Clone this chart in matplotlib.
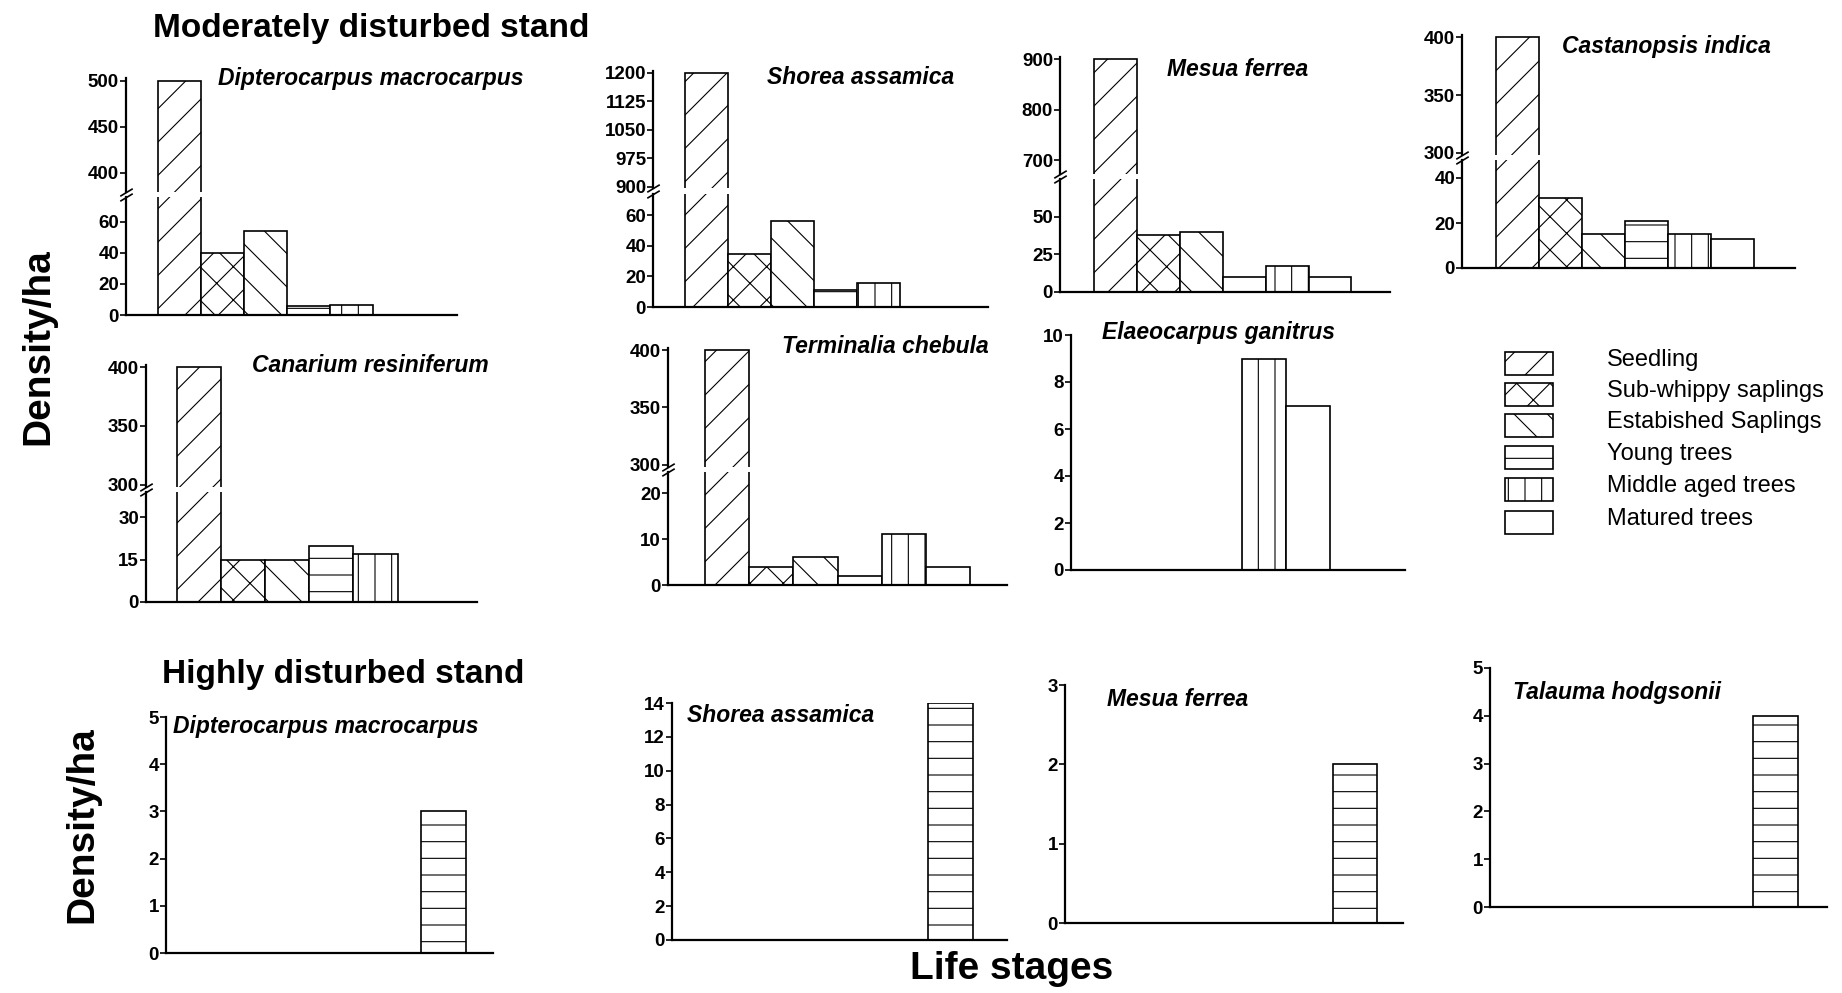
import matplotlib
matplotlib.use("Agg")
import matplotlib.pyplot as plt
from matplotlib.patches import Rectangle


# -----------------------------
# DATA (density / ha per life stage)
# -----------------------------

stages = [
    "Seedling",
    "Sub-whippy saplings",
    "Estabished Saplings",
    "Young trees",
    "Middle aged trees",
    "Matured trees",
]

# moderately disturbed stand
mod_dipterocarpus = [500, 40, 54, 6, 6.5, 0]
mod_shorea = [1200, 35, 56, 11, 16, 0]
mod_mesua = [900, 38, 40, 10, 17, 10]
mod_castanopsis = [400, 31, 15, 21, 15, 13]
mod_canarium = [400, 15, 15, 20, 17, 0]
mod_terminalia = [400, 4, 6, 2, 11, 4]
mod_elaeocarpus = [0, 0, 0, 0, 9, 7]

# highly disturbed stand
high_dipterocarpus = [0, 0, 0, 3, 0, 0]
high_shorea = [0, 0, 0, 14, 0, 0]
high_mesua = [0, 0, 0, 2, 0, 0]
high_talauma = [0, 0, 0, 4, 0, 0]

hatches = ["/", "x", "\\", "-", "|", ""]


# -----------------------------
# STYLE
# -----------------------------

plt.rcParams["font.family"] = ["Liberation Sans", "DejaVu Sans"]
plt.rcParams["font.weight"] = "bold"
plt.rcParams["hatch.linewidth"] = 0.8

W, H = 1842, 993

fig = plt.figure(figsize=(W / 100, H / 100), dpi=100)


def rect(x0, y0, x1, y1):
    # pixel box (top-left origin) -> figure fraction
    return [x0 / W, 1 - y1 / H, (x1 - x0) / W, (y1 - y0) / H]


def style_axis(ax, yticks, show_bottom=True):
    for side in ["top", "right"]:
        ax.spines[side].set_visible(False)
    ax.spines["left"].set_linewidth(1.6)
    ax.spines["bottom"].set_linewidth(1.6)
    if not show_bottom:
        ax.spines["bottom"].set_visible(False)
    ax.set_xticks([])
    ax.set_yticks(yticks)
    ax.tick_params(axis="y", direction="out", length=4, width=1.2,
                   labelsize=13.5, pad=1)
    ax.patch.set_alpha(0)


def draw_bars(ax, values):
    bars = ax.bar(range(len(values)), values, width=1.0, color="white",
                  edgecolor="black", linewidth=1.2)
    for bar, h in zip(bars, hatches):
        bar.set_hatch(h)
    return bars


def broken_panel(values, x0, x1, up, low, up_lim, low_lim,
                 up_ticks, low_ticks, xlim):
    ax_up = fig.add_axes(rect(x0, up[0], x1, up[1]))
    ax_low = fig.add_axes(rect(x0, low[0], x1, low[1]))
    for ax in (ax_up, ax_low):
        draw_bars(ax, values)
        ax.set_xlim(xlim)
    ax_up.set_ylim(up_lim)
    ax_low.set_ylim(low_lim)
    style_axis(ax_up, up_ticks, show_bottom=False)
    style_axis(ax_low, low_ticks)

    # break marks on the y axis
    kw = dict(marker=[(-1, -0.6), (1, 0.6)], markersize=9, linestyle="none",
              color="k", mec="k", mew=1.2, clip_on=False)
    ax_up.plot([0], [0], transform=ax_up.transAxes, **kw)
    ax_low.plot([0], [1], transform=ax_low.transAxes, **kw)


def simple_panel(values, x0, x1, y0, y1, ylim, ticks, xlim):
    ax = fig.add_axes(rect(x0, y0, x1, y1))
    draw_bars(ax, values)
    ax.set_xlim(xlim)
    ax.set_ylim(ylim)
    style_axis(ax, ticks)
    return ax


def title(x, y, name):
    fig.text(x / W, 1 - y / H, name, fontsize=16.5, fontweight="bold",
             style="italic", ha="left", va="center")


# -----------------------------
# MODERATELY DISTURBED STAND
# -----------------------------

broken_panel(mod_dipterocarpus, 126, 457, (78, 192), (197, 315),
             (379, 503), (0, 76), [400, 450, 500], [0, 20, 40, 60],
             (-1.25, 6.45))
title(218, 78, "Dipterocarpus macrocarpus")

broken_panel(mod_shorea, 653, 988, (71, 188), (194, 307),
             (897, 1205), (0, 74), [900, 975, 1050, 1125, 1200],
             [0, 20, 40, 60], (-1.25, 6.55))
title(767, 78, "Shorea assamica")

broken_panel(mod_mesua, 1060, 1390, (57, 174), (179, 292),
             (673, 904), (0, 75), [700, 800, 900], [0, 25, 50],
             (-1.3, 6.4))
title(1167, 69, "Mesua ferrea")

broken_panel(mod_castanopsis, 1462, 1795, (35, 155), (160, 268),
             (298, 402), (0, 48), [300, 350, 400], [0, 20, 40],
             (-1.3, 6.45))
title(1562, 47, "Castanopsis indica")

broken_panel(mod_canarium, 146, 477, (365, 487), (492, 602),
             (298, 402), (0, 39), [300, 350, 400], [0, 15, 30],
             (-1.2, 6.3))
title(252, 366, "Canarium resiniferum")

broken_panel(mod_terminalia, 668, 1007, (348, 467), (472, 585),
             (298, 402), (0, 24.6), [300, 350, 400], [0, 10, 20],
             (-1.35, 6.35))
title(782, 347, "Terminalia chebula")

simple_panel(mod_elaeocarpus, 1071, 1405, 335, 570, (0, 10),
             [0, 2, 4, 6, 8, 10], (-0.4, 7.2))
title(1102, 332, "Elaeocarpus ganitrus")


# -----------------------------
# HIGHLY DISTURBED STAND
# -----------------------------

simple_panel(high_dipterocarpus, 166, 493, 717, 953, (0, 5),
             [0, 1, 2, 3, 4, 5], (-3.2, 4.1))
title(173, 727, "Dipterocarpus macrocarpus")

simple_panel(high_shorea, 672, 1007, 703, 940, (0, 14),
             [0, 2, 4, 6, 8, 10, 12, 14], (-3.2, 4.25))
title(687, 715, "Shorea assamica")

simple_panel(high_mesua, 1065, 1403, 685, 923, (0, 3),
             [0, 1, 2, 3], (-3.6, 4.1))
title(1107, 700, "Mesua ferrea")

simple_panel(high_talauma, 1490, 1827, 668, 907, (0, 5),
             [0, 1, 2, 3, 4, 5], (-3.35, 4.15))
title(1513, 692, "Talauma hodgsonii")


# -----------------------------
# LEGEND
# -----------------------------

leg = fig.add_axes(rect(1490, 340, 1842, 545))
leg.set_xlim(1490, 1842)
leg.set_ylim(545, 340)
leg.axis("off")

row_top = [352, 383, 414, 446, 478, 511]

for top, stage, h in zip(row_top, stages, hatches):
    leg.add_patch(Rectangle((1505, top), 48, 23, facecolor="white",
                            edgecolor="black", linewidth=1.2, hatch=h))
    leg.text(1607, top + 8, stage, fontsize=17, fontweight="normal",
             ha="left", va="center")


# -----------------------------
# FIGURE LABELS
# -----------------------------

fig.text(153 / W, 1 - 29 / H, "Moderately disturbed stand", fontsize=24,
         fontweight="bold", ha="left", va="center")

fig.text(162 / W, 1 - 675 / H, "Highly disturbed stand", fontsize=24,
         fontweight="bold", ha="left", va="center")

fig.text(38 / W, 1 - 347 / H, "Density/ha", fontsize=28, fontweight="bold",
         rotation=90, ha="center", va="center")

fig.text(82 / W, 1 - 825 / H, "Density/ha", fontsize=28, fontweight="bold",
         rotation=90, ha="center", va="center")

fig.text(1012 / W, 1 - 969 / H, "Life stages", fontsize=28,
         fontweight="bold", ha="center", va="center")

fig.savefig("out.png", dpi=100)
plt.close(fig)
